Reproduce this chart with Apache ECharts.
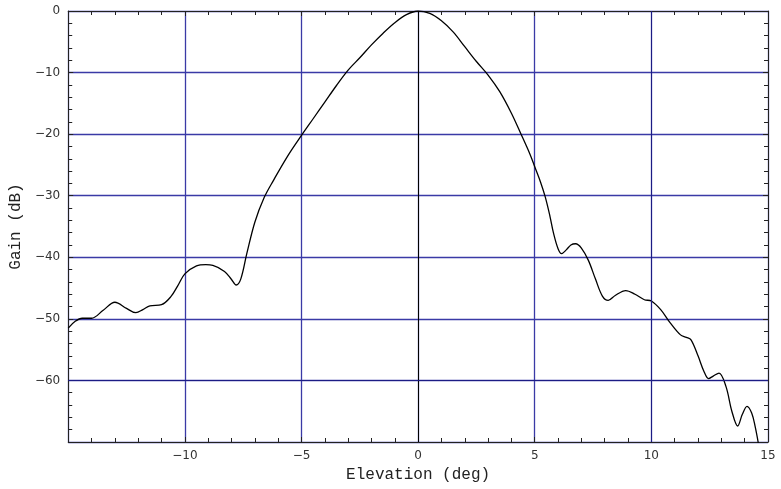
<!DOCTYPE html>
<html>
<head>
<meta charset="utf-8">
<script src="https://cdn.jsdelivr.net/npm/echarts@6/dist/echarts.min.js"></script>
<style>
html,body{margin:0;padding:0;background:#fff;}
#chart{width:781px;height:489px;}
</style>
</head>
<body>
<div id="chart"></div>
<script>
const elevation = [-15, -14.7, -14.4, -14.0, -13.5, -13.0, -12.5, -12.1, -11.8, -11.5, -11.0, -10.6, -10.3, -10.0, -9.5, -9.1, -8.8, -8.3, -8.0, -7.8, -7.6, -7.35, -7.0, -6.6, -6.2, -5.6, -5.0, -4.5, -4.0, -3.5, -3.0, -2.5, -2.0, -1.5, -1.0, -0.5, 0, 0.5, 1.0, 1.5, 2.0, 2.5, 3.0, 3.5, 4.0, 4.4, 4.8, 5.0, 5.25, 5.45, 5.65, 5.8, 6.0, 6.15, 6.35, 6.55, 6.75, 7.0, 7.3, 7.6, 7.9, 8.15, 8.45, 8.9, 9.3, 9.7, 10.0, 10.4, 10.8, 11.25, 11.5, 11.7, 12.0, 12.25, 12.45, 12.65, 12.9, 13.2, 13.45, 13.7, 13.9, 14.1, 14.3, 14.45, 14.6, 14.75];
const gain = [-51.5, -50.4, -49.9, -49.9, -48.6, -47.3, -48.3, -49.0, -48.5, -47.9, -47.7, -46.4, -44.6, -42.7, -41.4, -41.2, -41.3, -42.3, -43.6, -44.5, -43.5, -39.5, -34.3, -30.3, -27.5, -23.6, -20.2, -17.5, -14.8, -12.1, -9.6, -7.6, -5.5, -3.6, -1.9, -0.6, 0, -0.4, -1.6, -3.4, -5.8, -8.2, -10.4, -13.1, -16.6, -19.9, -23.3, -25.3, -27.8, -30.2, -33.3, -36.0, -38.6, -39.4, -38.8, -38.0, -37.8, -38.5, -40.5, -43.5, -46.3, -47.0, -46.2, -45.4, -46.0, -46.9, -47.1, -48.5, -50.6, -52.6, -53.0, -53.4, -56.0, -58.5, -59.7, -59.3, -58.8, -61.0, -65.0, -67.4, -65.5, -64.2, -65.3, -67.5, -70.5, -74.0];
const xTicks = [-15, -10, -5, 0, 5, 10, 15];
const yTicks = [-70, -60, -50, -40, -30, -20, -10, 0];
const blackXLines = [0];
const darkXLines = [10];
const darkYLines = [-60];

const fmt = v => (v < 0 ? '\u2212' + Math.abs(v) : String(v));
const labelFont = {fontFamily: 'DejaVu Sans', fontSize: 12, color: '#333'};
const nameFont = {fontFamily: 'Liberation Mono', fontSize: 16, color: '#222'};
const frameLine = {show: true, onZero: false, lineStyle: {color: '#222', width: 1}};
const tickIn = {show: true, inside: true, length: 5, lineStyle: {color: '#222'}};
const minorIn = {show: true, splitNumber: 5, length: 4, lineStyle: {color: '#222'}};
const gridBlue = '#3a3aa6';

const chart = echarts.init(document.getElementById('chart'), null, {renderer: 'canvas'});
chart.setOption({
  animation: false,
  backgroundColor: '#fff',
  grid: {left: 68, right: 13, top: 11, bottom: 47, containLabel: false},
  xAxis: [{
    type: 'value', min: xTicks[0], max: xTicks[xTicks.length - 1], interval: 5,
    position: 'bottom',
    name: 'Elevation (deg)', nameLocation: 'middle', nameGap: 23, nameTextStyle: nameFont,
    axisLine: frameLine, axisTick: tickIn, minorTick: minorIn,
    axisLabel: Object.assign({margin: 8, formatter: v => (v === xTicks[0] ? '' : fmt(v))}, labelFont),
    splitLine: {show: true, lineStyle: {color: gridBlue, width: 1.3}}
  }, {
    type: 'value', min: xTicks[0], max: xTicks[xTicks.length - 1], interval: 5,
    position: 'top',
    axisLine: frameLine, axisTick: tickIn, minorTick: minorIn,
    axisLabel: {show: false}, splitLine: {show: false}
  }],
  yAxis: [{
    type: 'value', min: yTicks[0], max: yTicks[yTicks.length - 1], interval: 10,
    position: 'left',
    name: 'Gain (dB)', nameLocation: 'middle', nameGap: 42, nameTextStyle: nameFont,
    axisLine: frameLine, axisTick: tickIn, minorTick: minorIn,
    axisLabel: Object.assign({margin: 8, formatter: v => (v === yTicks[0] ? '' : fmt(v))}, labelFont),
    splitLine: {show: true, lineStyle: {color: gridBlue, width: 1.3}}
  }, {
    type: 'value', min: yTicks[0], max: yTicks[yTicks.length - 1], interval: 10,
    position: 'right',
    axisLine: frameLine, axisTick: tickIn, minorTick: minorIn,
    axisLabel: {show: false}, splitLine: {show: false}
  }],
  series: [{
    type: 'line',
    data: elevation.map((x, i) => [x, gain[i]]),
    smooth: 0.35,
    showSymbol: false,
    clip: true,
    lineStyle: {color: '#000', width: 1.3},
    markLine: {
      silent: true, symbol: 'none', label: {show: false}, animation: false,
      data: [
        ...blackXLines.map(v => ({xAxis: v, lineStyle: {color: '#000', width: 1, type: 'solid'}})),
        ...darkXLines.map(v => ({xAxis: v, lineStyle: {color: '#1c1c84', width: 1, type: 'solid'}})),
        ...darkYLines.map(v => ({yAxis: v, lineStyle: {color: '#1c1c84', width: 1, type: 'solid'}}))
      ]
    }
  }]
});
</script>
</body>
</html>
